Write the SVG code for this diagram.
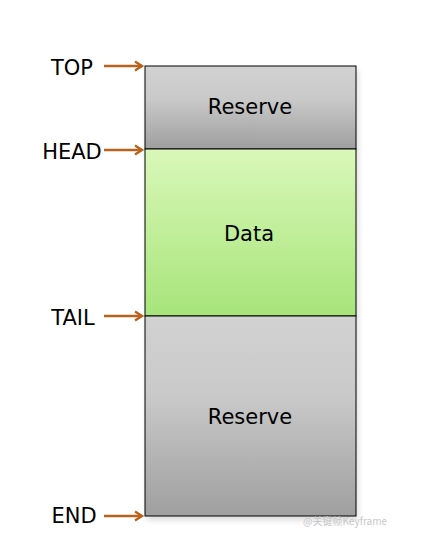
<svg xmlns="http://www.w3.org/2000/svg" width="422" height="541" viewBox="0 0 422 541">
<defs>
<style>
.lbl{font-family:"DejaVu Sans","Liberation Sans",sans-serif;font-size:21px;fill:#000;text-anchor:middle}
.box{stroke:#000;stroke-width:1}
.arr{stroke:#B9621C;stroke-width:2.4;fill:none;marker-end:url(#ah)}
</style>
<linearGradient id="gRes" x1="0" y1="0" x2="0" y2="1"><stop offset="0" stop-color="#d2d2d2"/><stop offset="0.4" stop-color="#c9c9c9"/><stop offset="1" stop-color="#9f9f9f"/></linearGradient>
<linearGradient id="gData" x1="0" y1="0" x2="0" y2="1"><stop offset="0" stop-color="#d9f8b9"/><stop offset="1" stop-color="#a7e47a"/></linearGradient>
<filter id="sh" x="-10%" y="-10%" width="120%" height="120%"><feGaussianBlur stdDeviation="3"/></filter>
<marker id="ah" markerWidth="12" markerHeight="12" refX="9" refY="6" orient="auto" markerUnits="userSpaceOnUse"><path d="M2,1.5 L9,6 L2,10.5" fill="none" stroke="#B9621C" stroke-width="2.4"/></marker>
</defs>
<rect x="147" y="70" width="211" height="450" fill="#000" opacity="0.15" filter="url(#sh)"/>
<g id="reserve-top"><rect class="box" x="145" y="66" width="211" height="83" fill="url(#gRes)"/><text class="lbl" x="250" y="114">Reserve</text></g>
<g id="data"><rect class="box" x="145" y="149" width="211" height="167" fill="url(#gData)"/><text class="lbl" x="249" y="241">Data</text></g>
<g id="reserve-bottom"><rect class="box" x="145" y="316" width="211" height="200" fill="url(#gRes)"/><text class="lbl" x="250" y="424">Reserve</text></g>
<g id="lbl-top"><text class="lbl" x="72" y="75">TOP</text></g>
<g id="lbl-head"><text class="lbl" x="72" y="159">HEAD</text></g>
<g id="lbl-tail"><text class="lbl" x="73" y="325">TAIL</text></g>
<g id="lbl-end"><text class="lbl" x="74" y="523">END</text></g>
<g id="connectors">
<line class="arr" x1="104" y1="66" x2="142" y2="66"/>
<line class="arr" x1="104" y1="150" x2="142" y2="150"/>
<line class="arr" x1="104" y1="316" x2="142" y2="316"/>
<line class="arr" x1="104" y1="516" x2="142" y2="516"/>
</g>
<text x="345" y="525" font-family="'Noto Sans CJK SC',sans-serif" font-size="10" fill="#c8c8c8" text-anchor="middle">@关键帧Keyframe</text>
</svg>
